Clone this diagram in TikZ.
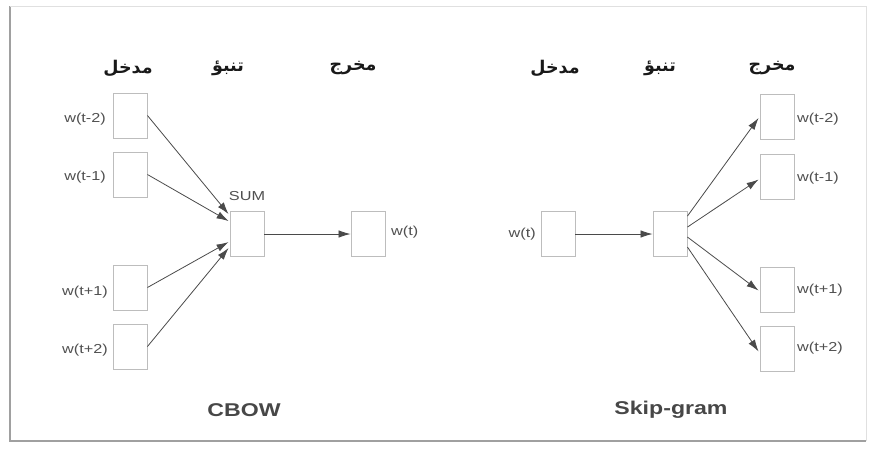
\documentclass[tikz,border=0pt]{standalone}
\usepackage{fontspec}
\setmainfont{Liberation Sans}
\newfontfamily\lab[FakeStretch=1.25]{Liberation Sans}
\newfontfamily\arabicfont[Script=Arabic]{DejaVu Sans}
\TeXXeTstate=1
\usetikzlibrary{arrows.meta,calc}
\definecolor{boxc}{HTML}{BDBDBD}
\definecolor{arrc}{HTML}{4A4A4A}
\definecolor{txtc}{HTML}{505050}
\definecolor{framec}{HTML}{A0A0A0}
\tikzset{
 unit/.style={draw=boxc, line width=0.9pt, minimum width=34pt, minimum height=45pt, inner sep=0pt},
 conn/.style={draw=arrc, line width=0.8pt, -{Latex[length=12pt,width=7.5pt]}},
 wlab/.style={font=\lab\fontsize{13}{15}\selectfont, text=txtc, inner sep=0pt},
 head/.style={font=\arabicfont\bfseries\fontsize{17.5}{20}\selectfont, text=black!90, inner sep=0pt},
 ttl/.style={font=\lab\bfseries\fontsize{18.5}{21}\selectfont, text=black!72, inner sep=0pt},
}
\begin{document}
\begin{tikzpicture}[x=1pt,y=-1pt]
\useasboundingbox (0,0) rectangle (871,448);
\fill[white] (0,0) rectangle (871,448);
% frame
\draw[framec, line width=1.6pt] (10,6) -- (10,441) -- (866,441);
\draw[black!12, line width=1pt] (10,6) -- (866,6) -- (866,441);

% ---------- CBOW ----------
\node[head] (ch1) at (128,68) {\arabicfont\bfseries\beginR مدخل\endR};
\node[head] (ch2) at (228,68) {\arabicfont\bfseries\beginR تنبؤ\endR};
\node[head] (ch3) at (353,68) {\arabicfont\bfseries\beginR مخرج\endR};

\node[unit] (ci1) at (130,115.5) {};
\node[unit] (ci2) at (130,174.5) {};
\node[unit] (ci3) at (130,287.5) {};
\node[unit] (ci4) at (130,346.5) {};
\node[unit] (csum) at (247,234) {};
\node[unit] (cout) at (368,234) {};

\node[wlab, anchor=east] (cl1) at (106,119) {w(t-2)};
\node[wlab, anchor=east] (cl2) at (106,177.5) {w(t-1)};
\node[wlab, anchor=east] (cl3) at (108,292) {w(t+1)};
\node[wlab, anchor=east] (cl4) at (108,350.5) {w(t+2)};
\node[wlab] (csuml) at (247,196) {SUM};
\node[wlab, anchor=west] (coutl) at (391,232) {w(t)};

\draw[conn] (ci1.east) -- ($(csum.north west)+(-1,3)$);
\draw[conn] (ci2.east) -- ($(csum.north west)+(-1,10)$);
\draw[conn] (ci3.east) -- ($(csum.north west)+(-1,31)$);
\draw[conn] (ci4.east) -- ($(csum.north west)+(-1,37)$);
\draw[conn] (csum.east) -- (cout.west);

\node[ttl] (cbow) at (244,410) {CBOW};

% ---------- Skip-gram ----------
\node[head] (sh1) at (555,68) {\arabicfont\bfseries\beginR مدخل\endR};
\node[head] (sh2) at (660,68) {\arabicfont\bfseries\beginR تنبؤ\endR};
\node[head] (sh3) at (772,68) {\arabicfont\bfseries\beginR مخرج\endR};

\node[unit] (sin) at (558,234) {};
\node[unit] (sproj) at (670,234) {};
\node[unit] (so1) at (777,117) {};
\node[unit] (so2) at (777,176.5) {};
\node[unit] (so3) at (777,289.5) {};
\node[unit] (so4) at (777,348.5) {};

\node[wlab, anchor=east] (sinl) at (536,234) {w(t)};
\node[wlab, anchor=west] (sl1) at (797,119) {w(t-2)};
\node[wlab, anchor=west] (sl2) at (797,178) {w(t-1)};
\node[wlab, anchor=west] (sl3) at (797,290) {w(t+1)};
\node[wlab, anchor=west] (sl4) at (797,348) {w(t+2)};

\draw[conn] (sin.east) -- (sproj.west);
\draw[conn] ($(sproj.north east)+(0,5)$) -- ($(so1.west)+(-1,1)$);
\draw[conn] ($(sproj.north east)+(0,16)$) -- ($(so2.west)+(-1,3)$);
\draw[conn] ($(sproj.north east)+(0,26)$) -- ($(so3.west)+(-1,1)$);
\draw[conn] ($(sproj.north east)+(0,36)$) -- ($(so4.west)+(-1,3)$);

\node[ttl] (skip) at (671,410) {Skip-gram};
\end{tikzpicture}
\end{document}
